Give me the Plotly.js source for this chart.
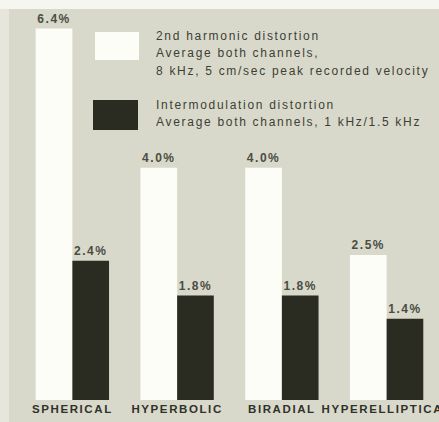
<!DOCTYPE html>
<html>
<head>
<meta charset="utf-8">
<script src="https://cdn.plot.ly/plotly-3.0.1.min.js"></script>
<style>
  html, body { margin: 0; padding: 0; background: #d9d9cb; }
  #chart { width: 439px; height: 422px; }
  .xtick text { letter-spacing: 1.6px; }
  .bartext { letter-spacing: 1.5px; }
  .annotation-text { letter-spacing: 1.7px; }
</style>
</head>
<body>
<div id="chart"></div>
<script>
// ---- data ----
const categories = ["SPHERICAL", "HYPERBOLIC", "BIRADIAL", "HYPERELLIPTICAL"];
const harmonicDistortion = [6.4, 4.0, 4.0, 2.5];
const imDistortion = [2.4, 1.8, 1.8, 1.4];
const harmonicLegend = ["2nd harmonic distortion", "Average both channels,", "8 kHz, 5 cm/sec peak recorded velocity"];
const imLegend = ["Intermodulation distortion", "Average both channels, 1 kHz/1.5 kHz"];

// ---- layout helpers ----
const W = 439, H = 422;
const M = { l: 20, r: 0, t: 10, b: 22 };
const PW = W - M.l - M.r, PH = H - M.t - M.b;
const px = x => (x - M.l) / PW;
const py = y => (H - M.b - y) / PH;

const textColor = "#3c3f35";
const bg = "#d9d9cb";
const FAM = "Liberation Sans, Arial, sans-serif";

const traces = [
  {
    type: "bar", name: harmonicLegend[0], x: categories, y: harmonicDistortion,
    marker: { color: "#fdfdf7", line: { width: 0 } },
    text: harmonicDistortion.map(v => v.toFixed(1) + "%"),
    textposition: "outside", cliponaxis: false,
    textfont: { family: FAM, size: 12, color: "#4a4d43", weight: "bold" },
    hoverinfo: "x+y"
  },
  {
    type: "bar", name: imLegend[0], x: categories, y: imDistortion,
    marker: { color: "#2a2c22", line: { width: 0 } },
    text: imDistortion.map(v => v.toFixed(1) + "%"),
    textposition: "outside", cliponaxis: false,
    textfont: { family: FAM, size: 12, color: "#4a4d43", weight: "bold" },
    hoverinfo: "x+y"
  }
];

const legendFont = { family: FAM, size: 12, color: textColor };
const legendLinesY = [36, 53, 71];
const imLinesY = [105, 122];
const annotations = [];
harmonicLegend.forEach((t, i) => annotations.push({
  xref: "paper", yref: "paper", x: px(154), y: py(legendLinesY[i]),
  xanchor: "left", yanchor: "middle", text: t, showarrow: false, font: legendFont
}));
imLegend.forEach((t, i) => annotations.push({
  xref: "paper", yref: "paper", x: px(154), y: py(imLinesY[i]),
  xanchor: "left", yanchor: "middle", text: t, showarrow: false, font: legendFont
}));

const shapes = [
  // light scan border top and left
  { type: "rect", xref: "paper", yref: "paper", x0: px(0), x1: px(W), y0: py(9), y1: py(0),
    fillcolor: "#f6f6f0", line: { width: 0 }, layer: "below" },
  { type: "rect", xref: "paper", yref: "paper", x0: px(0), x1: px(9), y0: py(H), y1: py(9),
    fillcolor: "#e6e6dc", line: { width: 0 }, layer: "below" },
  // legend swatches
  { type: "rect", xref: "paper", yref: "paper", x0: px(95), x1: px(139), y0: py(60), y1: py(32),
    fillcolor: "#fdfdf7", line: { width: 0 } },
  { type: "rect", xref: "paper", yref: "paper", x0: px(93), x1: px(138), y0: py(130), y1: py(100),
    fillcolor: "#2a2c22", line: { width: 0 } }
];

const layout = {
  width: W, height: H,
  margin: M,
  paper_bgcolor: bg, plot_bgcolor: bg,
  showlegend: false,
  barmode: "group", bargap: 0.3, bargroupgap: 0,
  font: { family: FAM, color: textColor },
  xaxis: {
    type: "category", showgrid: false, zeroline: false, showline: false, ticks: "",
    tickfont: { family: FAM, size: 11.5, color: "#2f322a", weight: "bold" },
    fixedrange: true
  },
  yaxis: {
    range: [0, 6.72], showgrid: false, zeroline: false, showline: false,
    showticklabels: false, ticks: "", fixedrange: true
  },
  annotations, shapes
};

Plotly.newPlot("chart", traces, layout, { staticPlot: true, displayModeBar: false });
</script>
</body>
</html>
